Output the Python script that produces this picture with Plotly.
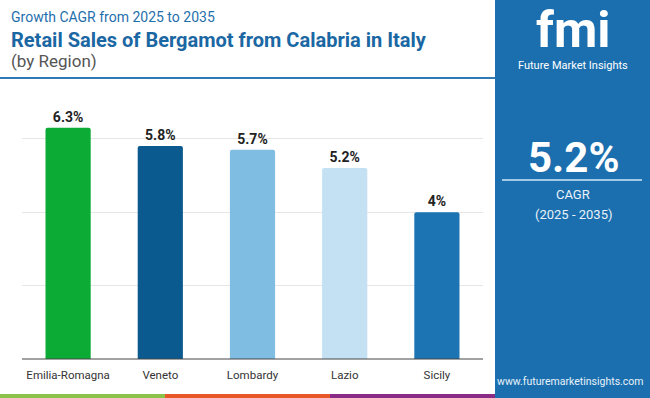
import plotly.graph_objects as go

regions = ["Emilia-Romagna", "Veneto", "Lombardy", "Lazio", "Sicily"]
cagr = [6.3, 5.8, 5.7, 5.2, 4.0]
labels = ["6.3%", "5.8%", "5.7%", "5.2%", "4%"]
colors = ["#0bab35", "#0b5a8f", "#80bde3", "#c3e1f3", "#1c74b2"]

W, H = 650, 398
def px(x): return x / W
def py(y): return 1 - y / H

fig = go.Figure()
fig.add_trace(go.Bar(
    x=regions, y=cagr, marker=dict(color=colors, line=dict(width=0), cornerradius=2),
    text=labels, textposition="outside", cliponaxis=False,
    textfont=dict(family="Roboto", size=14, color="#222222", weight="bold"),
    width=0.49,
))

shapes = []
# right panel
shapes.append(dict(type="rect", xref="paper", yref="paper", x0=px(495), x1=1, y0=0, y1=1,
                   fillcolor="#1b6fae", line=dict(width=0), layer="below"))
# header underline
shapes.append(dict(type="line", xref="paper", yref="paper", x0=0, x1=px(495), y0=py(78), y1=py(78),
                   line=dict(color="#2f7ab5", width=2)))
# bottom strip
for x0, x1, c in [(0, 165, "#8bc34a"), (165, 330, "#e8572a"), (330, 495, "#8a2c86")]:
    shapes.append(dict(type="rect", xref="paper", yref="paper", x0=px(x0), x1=px(x1), y0=0, y1=py(394),
                       fillcolor=c, line=dict(width=0)))
# baseline
shapes.append(dict(type="line", xref="paper", yref="paper", x0=px(22), x1=px(483), y0=py(359), y1=py(359),
                   line=dict(color="#444444", width=1)))
# white line in panel
shapes.append(dict(type="line", xref="paper", yref="paper", x0=px(502), x1=px(642), y0=py(180), y1=py(180),
                   line=dict(color="#cfe6f7", width=1.5)))

ann = []
def t(x, y, s, size, color, weight="normal", xanchor="left", family="Roboto"):
    ann.append(dict(xref="paper", yref="paper", x=px(x), y=py(y), text=s, showarrow=False,
                    xanchor=xanchor, yanchor="middle",
                    font=dict(family=family, size=size, color=color, weight=weight)))

t(9, 17, "Growth CAGR from 2025 to 2035", 14, "#1f6fad")
t(9, 40, "Retail Sales of Bergamot from Calabria in Italy", 20, "#1a67a3", "bold")
t(9, 61, "(by Region)", 17, "#555555")
t(573, 157, "5.2%", 42, "#ffffff", "bold", "center")
t(573, 195, "CAGR", 13, "#e8f2fa", "normal", "center")
t(573, 214, "(2025 - 2035)", 13, "#e8f2fa", "normal", "center")
t(646, 381, "www.futuremarketinsights.com", 10.5, "#e8f2fa", "normal", "right")
t(573, 30, "fmi", 50, "#ffffff", "bold", "center")
t(573, 65, "Future Market Insights", 11, "#ffffff", "normal", "center")

fig.update_layout(
    width=W, height=H, margin=dict(l=0, r=0, t=0, b=0, autoexpand=False),
    paper_bgcolor="white", plot_bgcolor="white",
    shapes=shapes, annotations=ann, showlegend=False, bargap=0.51,
    xaxis=dict(domain=[px(22), px(483)], showline=False, ticks="", showgrid=False, automargin=False,
               ticklabelstandoff=7,
               tickfont=dict(family="Roboto", size=11.5, color="#333333")),
    yaxis=dict(domain=[py(359), py(102)], range=[0, 7], showgrid=True, gridcolor="#e6e6e6", automargin=False,
               dtick=2, showticklabels=False, zeroline=False, showline=False, fixedrange=True),
)
fig.write_html("out.html", config={"displayModeBar": False},
               post_script="document.body.style.margin='0';document.body.style.overflow='hidden';")
